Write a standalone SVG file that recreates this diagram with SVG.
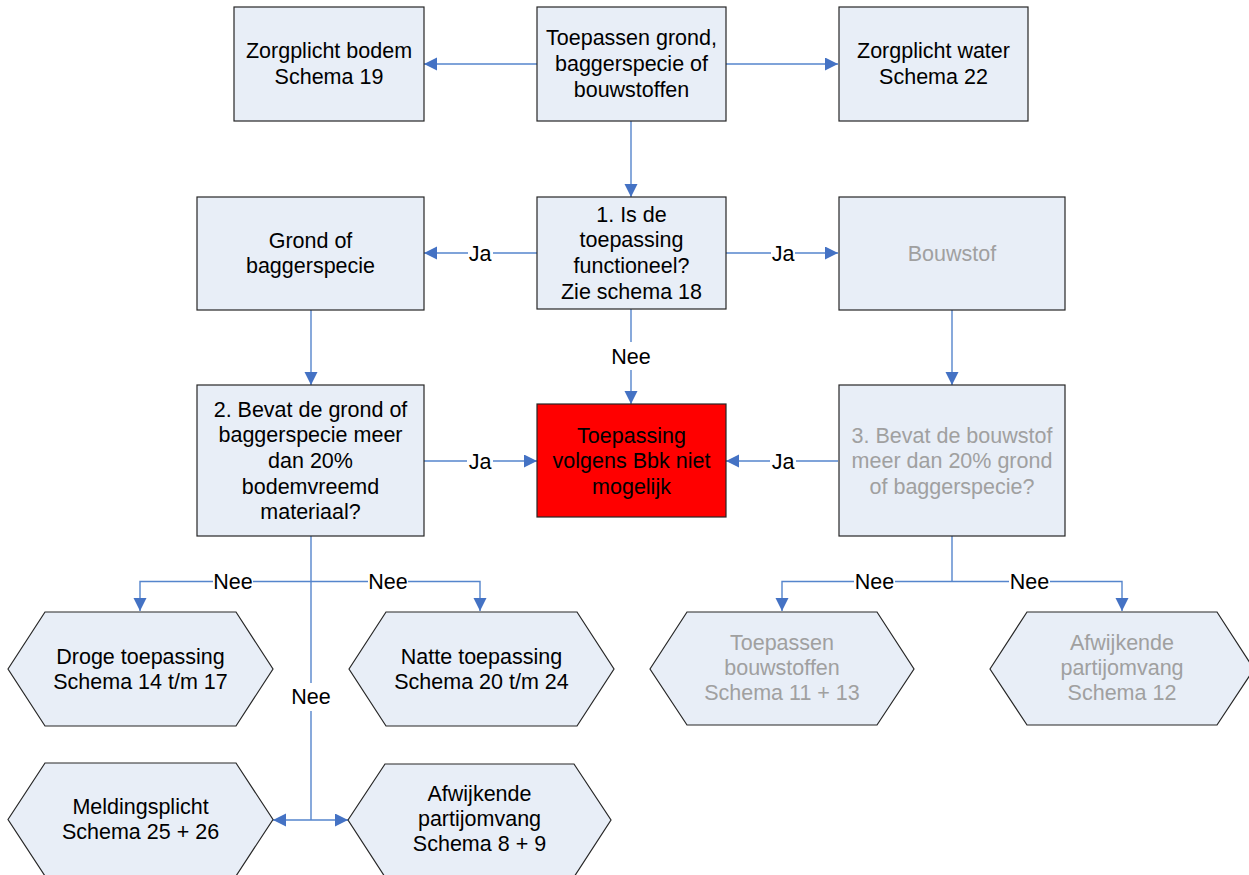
<svg xmlns="http://www.w3.org/2000/svg" width="1249" height="875" viewBox="0 0 1249 875">
<style>
.box{fill:#E8EEF7;stroke:#262626;stroke-width:1.2}
.red{fill:#FF0000;stroke:#262626;stroke-width:1.2}
text{font-family:"Liberation Sans",Arial,sans-serif;font-size:21.5px;text-anchor:middle;fill:#000}
.g text, text.g{fill:#A0A0A0}
.c{fill:none;stroke:#5585CC;stroke-width:1.4}
.lbl{fill:#000}
</style>
<defs>
<marker id="ah" markerUnits="userSpaceOnUse" markerWidth="14" markerHeight="14" refX="13" refY="6.5" orient="auto">
<path d="M0,0 L13,6.5 L0,13 z" fill="#4472C4"/>
</marker>
</defs>
<rect width="1249" height="875" fill="#FFFFFF"/>

<g id="connectors">
<line class="c" x1="537" y1="64" x2="424" y2="64" marker-end="url(#ah)"/>
<line class="c" x1="726" y1="64" x2="838" y2="64" marker-end="url(#ah)"/>
<line class="c" x1="631" y1="121" x2="631" y2="197" marker-end="url(#ah)"/>
<line class="c" x1="537" y1="253" x2="493" y2="253"/>
<line class="c" x1="468" y1="253" x2="424" y2="253" marker-end="url(#ah)"/>
<text class="lbl" x="480" y="260.5">Ja</text>
<line class="c" x1="726" y1="253" x2="771" y2="253"/>
<line class="c" x1="795" y1="253" x2="838" y2="253" marker-end="url(#ah)"/>
<text class="lbl" x="783" y="260.5">Ja</text>
<line class="c" x1="631" y1="309" x2="631" y2="342"/>
<line class="c" x1="631" y1="370" x2="631" y2="404" marker-end="url(#ah)"/>
<text class="lbl" x="631" y="363.5">Nee</text>
<line class="c" x1="311" y1="310" x2="311" y2="385" marker-end="url(#ah)"/>
<line class="c" x1="952" y1="310" x2="952" y2="385" marker-end="url(#ah)"/>
<line class="c" x1="424" y1="461" x2="467" y2="461"/>
<line class="c" x1="493" y1="461" x2="537" y2="461" marker-end="url(#ah)"/>
<text class="lbl" x="480" y="468.5">Ja</text>
<line class="c" x1="838" y1="461" x2="796" y2="461"/>
<line class="c" x1="770" y1="461" x2="726" y2="461" marker-end="url(#ah)"/>
<text class="lbl" x="783" y="468.5">Ja</text>
<line class="c" x1="311" y1="536" x2="311" y2="683"/>
<line class="c" x1="311" y1="711" x2="311" y2="820"/>
<text class="lbl" x="311" y="704">Nee</text>
<polyline class="c" points="213,581.5 140,581.5 140,611" marker-end="url(#ah)"/>
<line class="c" x1="253" y1="581.5" x2="368" y2="581.5"/>
<polyline class="c" points="408,581.5 480,581.5 480,611" marker-end="url(#ah)"/>
<text class="lbl" x="233" y="588.5">Nee</text>
<text class="lbl" x="388" y="588.5">Nee</text>
<line class="c" x1="311" y1="820" x2="273" y2="820" marker-end="url(#ah)"/>
<line class="c" x1="311" y1="820" x2="348" y2="820" marker-end="url(#ah)"/>
<line class="c" x1="952" y1="536" x2="952" y2="581.5"/>
<polyline class="c" points="854,581.5 782,581.5 782,611" marker-end="url(#ah)"/>
<line class="c" x1="895" y1="581.5" x2="1009" y2="581.5"/>
<polyline class="c" points="1050,581.5 1122,581.5 1122,611" marker-end="url(#ah)"/>
<text class="lbl" x="874.5" y="588.5">Nee</text>
<text class="lbl" x="1029.5" y="588.5">Nee</text>
</g>

<g id="zorgplicht-bodem">
<rect class="box" x="234" y="7" width="190" height="114"/>
<text x="329" y="58">Zorgplicht bodem</text>
<text x="329" y="83.7">Schema 19</text>
</g>
<g id="toepassen">
<rect class="box" x="537" y="7" width="189" height="114"/>
<text x="631.5" y="45.3">Toepassen grond,</text>
<text x="631.5" y="71">baggerspecie of</text>
<text x="631.5" y="96.7">bouwstoffen</text>
</g>
<g id="zorgplicht-water">
<rect class="box" x="839" y="7" width="189" height="114"/>
<text x="933.5" y="58">Zorgplicht water</text>
<text x="933.5" y="83.7">Schema 22</text>
</g>
<g id="grond">
<rect class="box" x="197" y="197" width="227" height="113"/>
<text x="310.5" y="247.5">Grond of</text>
<text x="310.5" y="273.2">baggerspecie</text>
</g>
<g id="vraag1">
<rect class="box" x="537" y="197" width="189" height="112"/>
<text x="631.5" y="221.5">1. Is de</text>
<text x="631.5" y="247.2">toepassing</text>
<text x="631.5" y="272.9">functioneel?</text>
<text x="631.5" y="298.6">Zie schema 18</text>
</g>
<g id="bouwstof" class="g">
<rect class="box" x="839" y="197" width="226" height="113"/>
<text x="952" y="260.5">Bouwstof</text>
</g>
<g id="vraag2">
<rect class="box" x="197" y="385" width="227" height="151"/>
<text x="310.5" y="416.5">2. Bevat de grond of</text>
<text x="310.5" y="442.2">baggerspecie meer</text>
<text x="310.5" y="467.9">dan 20%</text>
<text x="310.5" y="493.6">bodemvreemd</text>
<text x="310.5" y="519.3">materiaal?</text>
</g>
<g id="niet-mogelijk">
<rect class="red" x="537" y="404" width="189" height="113"/>
<text x="631.5" y="442.5">Toepassing</text>
<text x="631.5" y="468.2">volgens Bbk niet</text>
<text x="631.5" y="493.9">mogelijk</text>
</g>
<g id="vraag3" class="g">
<rect class="box" x="839" y="385" width="226" height="151"/>
<text x="952" y="442.5">3. Bevat de bouwstof</text>
<text x="952" y="468.2">meer dan 20% grond</text>
<text x="952" y="493.9">of baggerspecie?</text>
</g>
<g id="droge">
<polygon class="box" points="8,669 45,612 236,612 273,669 236,726 45,726"/>
<text x="140.5" y="663.5">Droge toepassing</text>
<text x="140.5" y="688.5">Schema 14 t/m 17</text>
</g>
<g id="natte">
<polygon class="box" points="349,669 386,612 577,612 614,669 577,726 386,726"/>
<text x="481.5" y="663.5">Natte toepassing</text>
<text x="481.5" y="688.5">Schema 20 t/m 24</text>
</g>
<g id="meldingsplicht">
<polygon class="box" points="8,819.5 45,763 236,763 273,819.5 236,876 45,876"/>
<text x="140.5" y="813.5">Meldingsplicht</text>
<text x="140.5" y="838.5">Schema 25 + 26</text>
</g>
<g id="afwijkende-8-9">
<polygon class="box" points="348,820 385,764 574,764 611,820 574,877 385,877"/>
<text x="479.5" y="801">Afwijkende</text>
<text x="479.5" y="826">partijomvang</text>
<text x="479.5" y="851">Schema 8 + 9</text>
</g>
<g id="toepassen-bouwstoffen" class="g">
<polygon class="box" points="650,669 687,612 877,612 914,669 877,725 687,725"/>
<text x="782" y="650">Toepassen</text>
<text x="782" y="675">bouwstoffen</text>
<text x="782" y="700">Schema 11 + 13</text>
</g>
<g id="afwijkende-12" class="g">
<polygon class="box" points="990,669 1027,612 1217,612 1254,669 1217,725 1027,725"/>
<text x="1122" y="650">Afwijkende</text>
<text x="1122" y="675">partijomvang</text>
<text x="1122" y="700">Schema 12</text>
</g>
</svg>
